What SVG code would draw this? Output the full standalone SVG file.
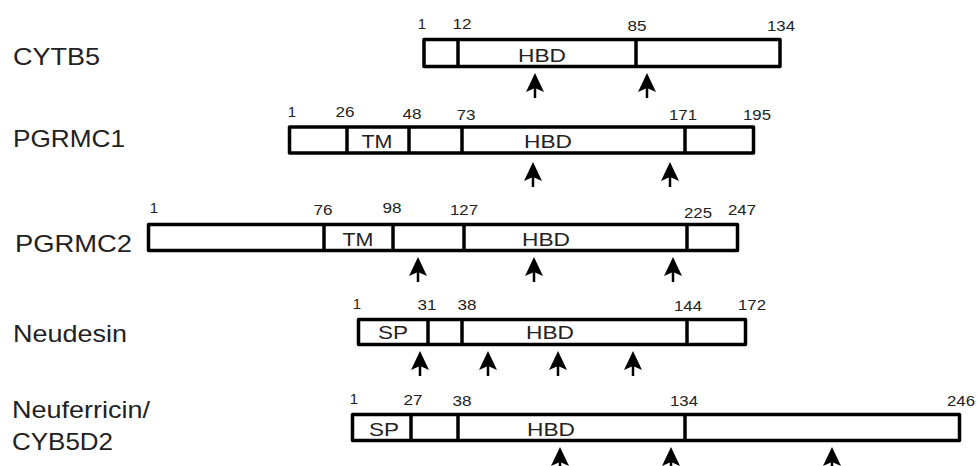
<svg xmlns="http://www.w3.org/2000/svg" xmlns:xlink="http://www.w3.org/1999/xlink" width="977" height="466" viewBox="0 0 977 466">
<style>
.bg{fill:#ffffff}
.box{fill:#ffffff;stroke:#000000;stroke-width:3.5;stroke-linejoin:round}
.div{stroke:#000000;stroke-width:3.5}
.name{font-family:"Liberation Sans",Arial,sans-serif;font-size:24px;fill:#222222}
.num{font-family:"Liberation Sans",Arial,sans-serif;font-size:15px;fill:#222222;text-anchor:middle}
.dom{font-family:"Liberation Sans",Arial,sans-serif;font-size:19px;fill:#222222;text-anchor:middle}
.stem{stroke:#000000;stroke-width:2.5}
.head{fill:#000000}
</style>
<defs>
<g id="arr">
<line class="stem" x1="0" y1="10" x2="0" y2="25"/>
<path class="head" d="M0,0 L9,19 L0,15 L-9,19 Z"/>
</g>
</defs>
<rect class="bg" x="0" y="0" width="977" height="466"/>

<g id="cytb5">
<text class="name" x="13" y="65" textLength="87" lengthAdjust="spacingAndGlyphs">CYTB5</text>
<rect class="box" x="424" y="39.5" width="356" height="27"/>
<line class="div" x1="458" y1="39.5" x2="458" y2="66.5"/>
<line class="div" x1="636" y1="39.5" x2="636" y2="66.5"/>
<text class="dom" x="542" y="62" textLength="48" lengthAdjust="spacingAndGlyphs">HBD</text>
<text class="num" x="422" y="29">1</text>
<text class="num" x="462" y="29" textLength="19" lengthAdjust="spacingAndGlyphs">12</text>
<text class="num" x="637" y="31" textLength="19" lengthAdjust="spacingAndGlyphs">85</text>
<text class="num" x="781" y="31" textLength="28" lengthAdjust="spacingAndGlyphs">134</text>
</g>

<g id="pgrmc1">
<text class="name" x="13" y="147" textLength="112" lengthAdjust="spacingAndGlyphs">PGRMC1</text>
<rect class="box" x="289.5" y="127" width="464" height="26"/>
<line class="div" x1="347" y1="127" x2="347" y2="153"/>
<line class="div" x1="409" y1="127" x2="409" y2="153"/>
<line class="div" x1="462" y1="127" x2="462" y2="153"/>
<line class="div" x1="685" y1="127" x2="685" y2="153"/>
<text class="dom" x="377" y="148" textLength="31" lengthAdjust="spacingAndGlyphs">TM</text>
<text class="dom" x="548" y="148" textLength="48" lengthAdjust="spacingAndGlyphs">HBD</text>
<text class="num" x="292" y="117">1</text>
<text class="num" x="345" y="117" textLength="19" lengthAdjust="spacingAndGlyphs">26</text>
<text class="num" x="412" y="119" textLength="19" lengthAdjust="spacingAndGlyphs">48</text>
<text class="num" x="466" y="120" textLength="19" lengthAdjust="spacingAndGlyphs">73</text>
<text class="num" x="683" y="120" textLength="28" lengthAdjust="spacingAndGlyphs">171</text>
<text class="num" x="757" y="120" textLength="28" lengthAdjust="spacingAndGlyphs">195</text>
</g>

<g id="pgrmc2">
<text class="name" x="15" y="252" textLength="117" lengthAdjust="spacingAndGlyphs">PGRMC2</text>
<rect class="box" x="148.5" y="224.5" width="589" height="26"/>
<line class="div" x1="324" y1="224.5" x2="324" y2="250.5"/>
<line class="div" x1="393" y1="224.5" x2="393" y2="250.5"/>
<line class="div" x1="464" y1="224.5" x2="464" y2="250.5"/>
<line class="div" x1="687" y1="224.5" x2="687" y2="250.5"/>
<text class="dom" x="358" y="246" textLength="31" lengthAdjust="spacingAndGlyphs">TM</text>
<text class="dom" x="546" y="246" textLength="48" lengthAdjust="spacingAndGlyphs">HBD</text>
<text class="num" x="154" y="213">1</text>
<text class="num" x="323" y="215" textLength="19" lengthAdjust="spacingAndGlyphs">76</text>
<text class="num" x="392" y="213" textLength="19" lengthAdjust="spacingAndGlyphs">98</text>
<text class="num" x="464" y="215" textLength="28" lengthAdjust="spacingAndGlyphs">127</text>
<text class="num" x="698" y="218" textLength="28" lengthAdjust="spacingAndGlyphs">225</text>
<text class="num" x="742" y="215" textLength="28" lengthAdjust="spacingAndGlyphs">247</text>
</g>

<g id="neudesin">
<text class="name" x="13" y="342" textLength="114" lengthAdjust="spacingAndGlyphs">Neudesin</text>
<rect class="box" x="358.5" y="319.5" width="387" height="25"/>
<line class="div" x1="428" y1="319.5" x2="428" y2="344.5"/>
<line class="div" x1="462" y1="319.5" x2="462" y2="344.5"/>
<line class="div" x1="687" y1="319.5" x2="687" y2="344.5"/>
<text class="dom" x="393" y="339" textLength="30" lengthAdjust="spacingAndGlyphs">SP</text>
<text class="dom" x="550" y="339" textLength="48" lengthAdjust="spacingAndGlyphs">HBD</text>
<text class="num" x="357" y="309">1</text>
<text class="num" x="427" y="310" textLength="19" lengthAdjust="spacingAndGlyphs">31</text>
<text class="num" x="467" y="310" textLength="19" lengthAdjust="spacingAndGlyphs">38</text>
<text class="num" x="688" y="311" textLength="28" lengthAdjust="spacingAndGlyphs">144</text>
<text class="num" x="752" y="310" textLength="28" lengthAdjust="spacingAndGlyphs">172</text>
</g>

<g id="neuferricin">
<text class="name" x="12" y="418" textLength="138" lengthAdjust="spacingAndGlyphs">Neuferricin/</text>
<text class="name" x="12" y="450" textLength="101" lengthAdjust="spacingAndGlyphs">CYB5D2</text>
<rect class="box" x="352.5" y="414.5" width="607" height="26"/>
<line class="div" x1="411" y1="414.5" x2="411" y2="440.5"/>
<line class="div" x1="458" y1="414.5" x2="458" y2="440.5"/>
<line class="div" x1="685" y1="414.5" x2="685" y2="440.5"/>
<text class="dom" x="384" y="436" textLength="30" lengthAdjust="spacingAndGlyphs">SP</text>
<text class="dom" x="551" y="436" textLength="48" lengthAdjust="spacingAndGlyphs">HBD</text>
<text class="num" x="354" y="404">1</text>
<text class="num" x="413" y="405" textLength="19" lengthAdjust="spacingAndGlyphs">27</text>
<text class="num" x="462" y="406" textLength="19" lengthAdjust="spacingAndGlyphs">38</text>
<text class="num" x="684" y="406" textLength="28" lengthAdjust="spacingAndGlyphs">134</text>
<text class="num" x="961" y="406" textLength="28" lengthAdjust="spacingAndGlyphs">246</text>
</g>

<g id="connectors">
<use xlink:href="#arr" x="535" y="73"/>
<use xlink:href="#arr" x="647" y="73"/>
<use xlink:href="#arr" x="533" y="162"/>
<use xlink:href="#arr" x="670" y="162"/>
<use xlink:href="#arr" x="418" y="257"/>
<use xlink:href="#arr" x="534" y="257"/>
<use xlink:href="#arr" x="673" y="257"/>
<use xlink:href="#arr" x="420" y="351"/>
<use xlink:href="#arr" x="488" y="351"/>
<use xlink:href="#arr" x="558" y="351"/>
<use xlink:href="#arr" x="633" y="351"/>
<use xlink:href="#arr" x="560" y="447"/>
<use xlink:href="#arr" x="671" y="447"/>
<use xlink:href="#arr" x="832" y="447"/>
</g>
</svg>
